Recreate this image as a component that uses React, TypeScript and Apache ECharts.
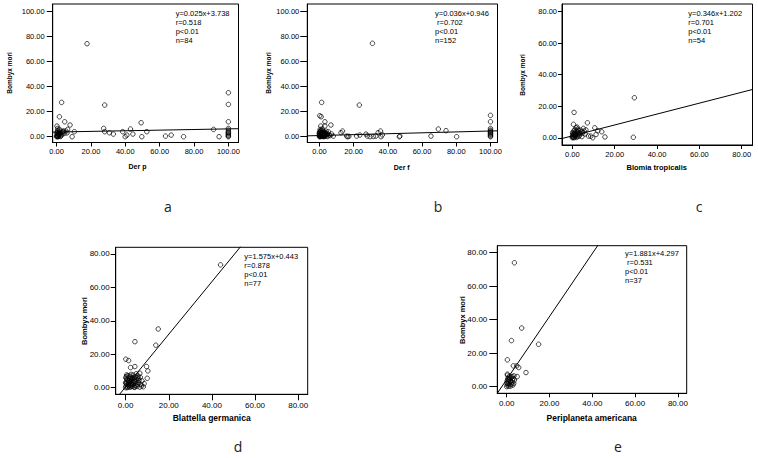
import React, { useEffect, useRef } from "react";
import * as echarts from "echarts";

// ---------- data ----------
const derP: number[][] = [
  [17.7, 74], [2.9, 27.3], [1.6, 15.9], [4.7, 11.9], [7.8, 9.3], [6.4, 5.8], [10.3, 4.0], [9.0, 0], [0.2, 8.5], [0.6, 6.6],
  [3.5, 4.0], [4.5, 2.7], [0, 0], [0.3, 0.5], [0.5, 1.2], [0.8, 2.0], [1.0, 0.3], [1.2, 3.0], [0.4, 4.2], [1.5, 1.0],
  [2.0, 2.2], [2.4, 0.6], [0.1, 2.8], [0.7, 5.0], [1.8, 4.5], [2.6, 3.4], [3.0, 1.5], [1.1, 1.8], [0.2, 1.1], [0.9, 0.0],
  [2.2, 0.2], [1.4, 2.6], [3.8, 3.6], [5.5, 4.5], [0.5, 3.3], [1.7, 5.8], [0.3, 0.2], [6.0, 3.0], [4.0, 4.6],
  [28, 25.2], [27.4, 6.6], [28, 4], [30.7, 3.2], [33, 2.1], [38.5, 4], [39.9, 0], [40.9, 1.3], [43, 6.1], [44.4, 2.1],
  [49.2, 11.1], [49.6, 0], [52.5, 4], [63.4, 0.5], [66.7, 1.3], [73.9, 0], [91.4, 5.8], [94.6, 0],
  [100, 35], [100, 25.7], [100, 11.9], [100, 5.3], [100, 3.4], [100, 2.1], [100, 0.5], [100, 0], [100, 4], [100, 6.6],
  [100, 1.2], [100, 2.8],
];

const derF: number[][] = [
  [31, 74.3], [1.3, 27.3], [23.3, 25.2], [0.2, 16.7], [1.0, 15.9], [3.2, 11.9], [3.2, 8.5], [0.8, 8.5], [6.7, 9.3], [5.2, 4],
  [8.1, 0.5], [0, 0], [0.2, 0.4], [0.4, 1.0], [0.6, 1.6], [0.8, 2.2], [1.0, 2.8], [1.2, 3.4], [1.4, 0.2], [1.6, 0.8],
  [1.8, 1.4], [2.0, 2.0], [2.2, 2.6], [2.4, 3.2], [2.6, 0.0], [2.8, 0.6], [3.0, 1.2], [3.2, 1.8], [3.4, 2.4], [3.6, 3.0],
  [0.1, 3.6], [0.3, 4.2], [0.5, 0.1], [0.7, 0.7], [0.9, 1.3], [1.1, 1.9], [1.3, 2.5], [1.5, 3.1], [1.7, 3.7], [1.9, 0.3],
  [2.1, 0.9], [2.3, 1.5], [2.5, 2.1], [2.7, 2.7], [2.9, 3.3], [3.1, 0.4], [3.3, 1.0], [3.5, 1.6], [3.7, 2.2], [4.0, 0.5],
  [4.3, 1.8], [4.6, 2.6], [0.0, 1.5], [0.0, 2.5], [0.0, 3.0], [0.1, 0.8], [0.6, 4.5], [1.2, 5.0], [2.0, 4.6], [4.8, 0.2],
  [5.5, 1.4], [6.2, 0.9], [7.0, 2.2], [3.9, 4.4], [0.4, 5.8], [1.6, 6.2],
  [12.6, 3.2], [13.5, 4.5], [15.9, 0.5], [16.5, 0], [17.2, 0.3], [21.7, 0.5], [23.6, 1.3], [27.2, 2.1], [28.0, 0.5], [29.6, 0],
  [31.5, 0.2], [33, 0.5], [34.3, 3.2], [35.7, 4.5], [36, 0], [36.8, 1.5], [46.7, 0], [47, 0.5], [65.2, 0.5], [69.5, 6.1],
  [74, 4.8], [80.2, 0],
  [100, 17], [100, 11.9], [100, 6.6], [100, 5.3], [100, 4], [100, 2.7], [100, 1.3], [100, 0], [100, 3.3], [100, 0.6],
  [100, 2.0], [100, 4.6],
];

const blomia: number[][] = [
  [29.3, 25.4], [28.8, 0.3], [0.8, 16.1], [0.5, 8.5], [1.7, 6.3], [7.1, 9.5], [10.6, 6.3], [13.9, 3.8], [15.4, 0.5], [11.2, 2.1],
  [7.6, 1.1], [8.7, 1.0], [9.6, 0], [5.2, 5.9], [4.4, 3.8], [3.3, 3.2], [2.1, 2.1], [0.3, 0.5], [0, 0], [0.2, 1.2],
  [0.4, 2.3], [0.6, 0.3], [0.9, 1.6], [1.1, 3.0], [1.3, 0.8], [1.5, 2.2], [1.8, 4.0], [2.0, 0.2], [2.3, 1.1], [2.5, 3.6],
  [2.8, 4.6], [3.0, 0.9], [3.6, 2.6], [4.0, 4.8], [4.8, 3.0], [5.6, 4.2], [6.0, 2.4], [0.1, 3.3], [0.7, 4.4], [1.2, 5.0],
  [2.6, 5.4], [3.4, 1.5], [6.4, 5.0], [0.0, 0.6], [0.5, 1.9], [1.9, 2.8], [0.3, 2.6], [4.5, 0.7], [2.2, 6.8], [0.9, 0.0],
  [1.6, 1.3], [12.0, 4.4],
];

const blattella: number[][] = [
  [44, 73.5], [15.1, 35.1], [14, 25.4], [4.3, 27.5], [0.1, 17], [1.4, 16.2], [2.3, 12], [4.3, 12.6], [9.7, 12.6], [10.3, 10],
  [6.6, 8.6], [10, 5.6], [0.5, 7.6], [7.4, 1], [0, 0], [0.2, 1.0], [0.4, 2.2], [0.6, 3.4], [0.8, 4.6], [1.0, 0.4],
  [1.2, 1.6], [1.4, 2.8], [1.6, 4.0], [1.8, 5.2], [2.0, 0.2], [2.2, 1.3], [2.4, 2.5], [2.6, 3.7], [2.8, 4.9], [3.0, 6.0],
  [3.2, 0.8], [3.4, 2.0], [3.6, 3.2], [3.8, 4.4], [4.0, 5.6], [4.2, 0.1], [4.4, 1.2], [4.6, 2.4], [4.8, 3.6], [5.0, 4.8],
  [5.3, 0.7], [5.6, 1.9], [5.9, 3.1], [6.2, 4.3], [6.6, 0.3], [7.0, 2.0], [0.1, 5.8], [0.3, 6.6], [1.1, 7.2], [2.1, 6.8],
  [3.5, 7.5], [4.5, 6.6], [5.4, 5.9], [6.8, 6.2], [8.2, 0.5], [8.6, 2.4], [0.7, 0.0], [1.5, 0.9], [2.9, 1.8], [0.0, 3.0],
  [0.5, 5.1], [3.9, 0.4], [5.8, 6.9], [1.9, 3.3], [2.7, 0.6], [6.0, 5.3], [4.1, 3.8], [1.3, 6.0], [7.6, 4.0], [0.2, 2.7],
  [3.1, 5.4], [2.5, 7.9], [4.9, 8.3],
];

const periplaneta: number[][] = [
  [3.6, 74], [7, 35], [2.2, 27.5], [14.9, 25.3], [0.3, 16], [3.1, 12.4], [4.7, 12.4], [5.6, 11.4], [9, 8.4], [4.9, 6],
  [3.4, 6.4], [0.3, 7.4], [0, 0], [0.3, 0.8], [0.6, 1.8], [0.9, 2.9], [1.2, 4.0], [1.5, 5.0], [0.2, 3.4], [0.5, 4.6],
  [1.8, 0.3], [2.1, 1.5], [2.4, 2.6], [2.7, 3.7], [3.0, 4.8], [0.8, 5.6], [1.4, 6.2], [2.2, 5.6], [3.3, 2.0], [1.0, 0.2],
  [0.1, 1.9], [1.7, 3.1], [2.9, 0.9], [0.4, 6.8], [2.6, 6.0], [3.6, 3.9], [1.1, 1.2],
];

const slopes = [0.025, 0.036, 0.346, 1.575, 1.881];
const intercepts = [3.738, 0.946, 1.202, 0.443, 4.297];
const statLines = [
  ["y=0.025x+3.738", "r=0.518", "p<0.01", "n=84"],
  ["y=0.036x+0.946", " r=0.702", "p<0.01", "n=152"],
  ["y=0.346x+1.202", "r=0.701", "p<0.01", "n=54"],
  ["y=1.575x+0.443", "r=0.878", "p<0.01", "n=77"],
  ["y=1.881x+4.297", " r=0.531", "p<0.01", "n=37"],
];
const xTitles = ["Der p", "Der f", "Blomia tropicalis", "Blattella germanica", "Periplaneta americana"];
const yTitle = "Bombyx mori";
const panelLetters = ["a", "b", "c", "d", "e"];
const ticks100 = [0, 20, 40, 60, 80, 100];
const ticks80 = [0, 20, 40, 60, 80];

const datasets = [derP, derF, blomia, blattella, periplaneta];

// ---------- layout ----------
const FONT = "'Liberation Sans', Arial, sans-serif";
const layout = [
  { l: 52.7, t: 4, r: 238.5, b: 142.5, xMin: -2.3, xMax: 105.9, yMin: -4.6, yMax: 105.6, xt: ticks100, yt: ticks100, fs: 7.5, yTick: 6, yMargin: 8, xTick: 4, xMargin: 5,
    yT: [9, 73, 6.5], xT: [137.5, 166, 7], let: [168, 206], st: [175.7, 9] },
  { l: 307.3, t: 4, r: 497.5, b: 142.5, xMin: -7.1, xMax: 104.1, yMin: -4.6, yMax: 105.6, xt: ticks100, yt: ticks100, fs: 7.5, yTick: 7, yMargin: 8, xTick: 4, xMargin: 5,
    yT: [268, 73, 6.5], xT: [401.7, 167, 7], let: [438, 206], st: [435, 9] },
  { l: 562, t: 4, r: 752.5, b: 145, xMin: -4.9, xMax: 85.1, yMin: -4.6, yMax: 84.9, xt: ticks80, yt: ticks80, fs: 7.5, yTick: 4, yMargin: 5, xTick: 4, xMargin: 5,
    yT: [522.7, 75, 6.5], xT: [656.7, 167, 7.5], let: [699, 206], st: [688.3, 9] },
  { l: 115.7, t: 247.3, r: 307.7, b: 394.3, xMin: -4.6, xMax: 84.4, yMin: -4, yMax: 84, xt: ticks80, yt: ticks80, fs: 8, yTick: 5, yMargin: 6, xTick: 6, xMargin: 7,
    yT: [84, 321, 7.5], xT: [211.7, 418, 8.5], let: [238, 446], st: [244.3, 251.5] },
  { l: 497.3, t: 245.7, r: 686.7, b: 393.3, xMin: -4.4, xMax: 84.1, yMin: -4, yMax: 84.2, xt: ticks80, yt: ticks80, fs: 8, yTick: 8, yMargin: 10, xTick: 4, xMargin: 6,
    yT: [462.7, 320, 7.5], xT: [591.7, 418, 8.5], let: [618, 446], st: [625, 248.8] },
];

const fmt = (v: number) => v.toFixed(2);

function buildOption() {
  const grid: any[] = [];
  const xAxis: any[] = [];
  const yAxis: any[] = [];
  const series: any[] = [];
  const graphic: any[] = [];

  layout.forEach((p, i) => {
    grid.push({
      left: p.l, top: p.t, width: p.r - p.l, height: p.b - p.t,
      show: true, borderColor: "#000", borderWidth: 1, backgroundColor: "transparent",
      containLabel: false, outerBoundsMode: "none",
    });
    xAxis.push({
      type: "value", gridIndex: i, min: p.xMin, max: p.xMax,
      axisLine: { show: true, onZero: false, lineStyle: { color: "#000", width: 1 } },
      axisTick: { show: true, length: p.xTick, customValues: p.xt, lineStyle: { color: "#000", width: 1 } },
      axisLabel: { customValues: p.xt, formatter: fmt, fontSize: p.fs, color: "#000", fontFamily: FONT, margin: p.xMargin },
      splitLine: { show: false },
    });
    yAxis.push({
      type: "value", gridIndex: i, min: p.yMin, max: p.yMax,
      axisLine: { show: true, onZero: false, lineStyle: { color: "#000", width: 1 } },
      axisTick: { show: true, length: p.yTick, customValues: p.yt, lineStyle: { color: "#000", width: 1 } },
      axisLabel: { customValues: p.yt, formatter: fmt, fontSize: p.fs, color: "#000", fontFamily: FONT, margin: p.yMargin },
      splitLine: { show: false },
    });
    series.push({
      type: "scatter", xAxisIndex: i, yAxisIndex: i, data: datasets[i],
      symbol: "circle", symbolSize: 4.5,
      itemStyle: { color: "rgba(0,0,0,0)", borderColor: "#000", borderWidth: 0.9 },
      silent: true,
    });
    const s = slopes[i], c = intercepts[i];
    series.push({
      type: "line", xAxisIndex: i, yAxisIndex: i, clip: true, silent: true,
      data: [[p.xMin, s * p.xMin + c], [p.xMax, s * p.xMax + c]],
      symbol: "none", lineStyle: { color: "#000", width: 1 },
    });

    graphic.push({
      type: "text", x: p.yT[0], y: p.yT[1], rotation: Math.PI / 2,
      style: { text: yTitle, fontSize: p.yT[2], fontWeight: "bold", fontFamily: FONT, fill: "#000", align: "center", verticalAlign: "middle" },
    });
    graphic.push({
      type: "text", x: p.xT[0], y: p.xT[1],
      style: { text: xTitles[i], fontSize: p.xT[2], fontWeight: "bold", fontFamily: FONT, fill: "#000", align: "center", verticalAlign: "middle" },
    });
    graphic.push({
      type: "text", x: p.let[0], y: p.let[1],
      style: { text: panelLetters[i], fontSize: 14, fontFamily: "'Open Sans', 'Noto Sans', sans-serif", fill: "#222", align: "center", verticalAlign: "middle" },
    });
    graphic.push({
      type: "text", x: p.st[0], y: p.st[1],
      style: { text: statLines[i].join("\n"), fontSize: 7.5, lineHeight: 9, fontFamily: FONT, fill: "#000", align: "left", verticalAlign: "top" },
    });
  });

  return { animation: false, backgroundColor: "#fff", grid, xAxis, yAxis, series, graphic };
}

export default function App() {
  const ref = useRef<HTMLDivElement>(null);
  useEffect(() => {
    if (!ref.current) return;
    const chart = echarts.init(ref.current, undefined, { renderer: "svg" });
    chart.setOption(buildOption() as any);
    return () => chart.dispose();
  }, []);
  return (
    <div
      ref={ref}
      style={{ position: "absolute", left: 0, top: 0, width: 758, height: 458, background: "#fff" }}
    />
  );
}
